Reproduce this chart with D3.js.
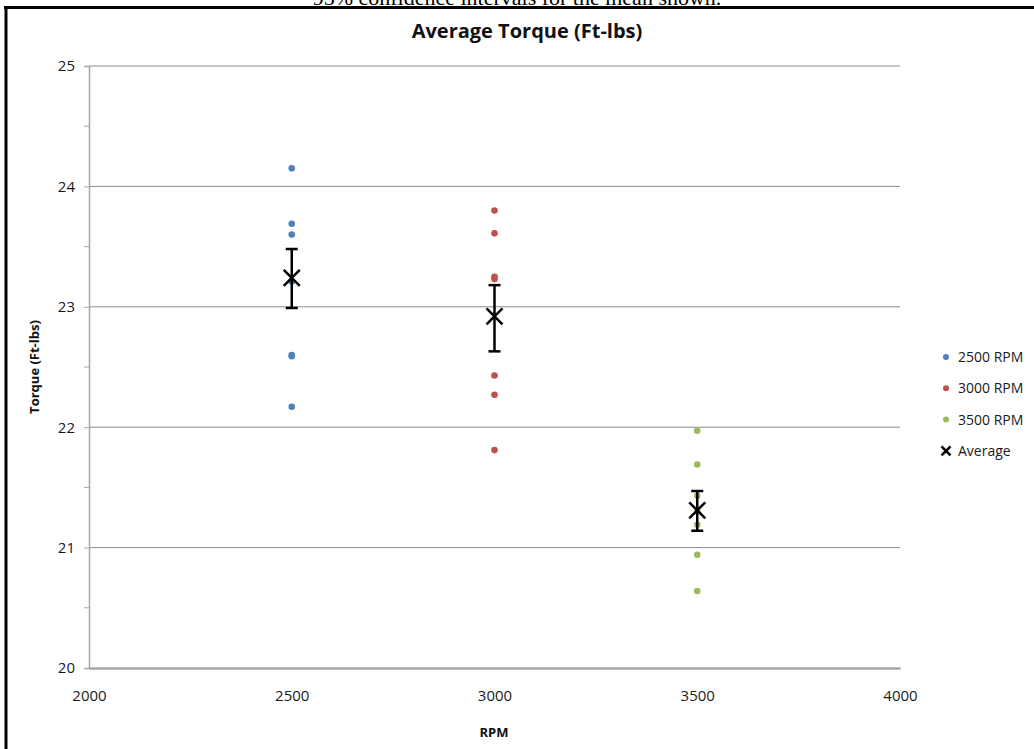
<!DOCTYPE html>
<html>
<head>
<meta charset="utf-8">
<script src="https://cdn.jsdelivr.net/npm/d3@7"></script>
<style>
  body { margin: 0; background: #fff; }
  svg { display: block; }
</style>
</head>
<body>
<svg id="chart" width="1034" height="749"></svg>
<script>
// series values
var rpm2500 = [24.15, 23.69, 23.60, 23.21, 22.60, 22.59, 22.17];
var rpm3000 = [23.80, 23.61, 23.25, 23.23, 22.43, 22.27, 21.81];
var rpm3500 = [21.97, 21.69, 21.43, 21.30, 21.19, 20.94, 20.64];

// averages with 95% confidence interval bounds
var avgRpm = [2500, 3000, 3500];
var avgValue = [23.24, 22.92, 21.31];
var avgLow = [22.99, 22.63, 21.14];
var avgHigh = [23.48, 23.18, 21.47];

var xTicks = [2000, 2500, 3000, 3500, 4000];
var yTicks = [20, 21, 22, 23, 24, 25];
var yMinor = [20.5, 21.5, 22.5, 23.5, 24.5];

var seriesNames = ["2500 RPM", "3000 RPM", "3500 RPM"];
var seriesColors = ["#4f81bd", "#c0504d", "#9bbb59"];

var font = "'Open Sans', sans-serif";
var svg = d3.select("#chart");

// frame of the pasted picture
svg.append("line").attr("x1", 4).attr("x2", 1034).attr("y1", 7.5).attr("y2", 7.5)
   .attr("stroke", "#000").attr("stroke-width", 3);
svg.append("line").attr("x1", 6).attr("x2", 6).attr("y1", 6).attr("y2", 749)
   .attr("stroke", "#000").attr("stroke-width", 3);

// caption, clipped at the top as in the original
svg.append("text")
   .attr("x", 517).attr("y", 5)
   .attr("text-anchor", "middle")
   .style("font-family", "'Liberation Serif', 'Times New Roman', serif")
   .style("font-size", "22px")
   .text("95% confidence intervals for the mean shown.");

// scales
var x = d3.scaleLinear().domain([2000, 4000]).range([89, 900]);
var y = d3.scaleLinear().domain([20, 25]).range([668, 66]);

// gridlines
svg.append("g").selectAll("line")
   .data(yTicks.slice(1))
   .enter().append("line")
   .attr("x1", x(2000)).attr("x2", x(4000))
   .attr("y1", d => y(d)).attr("y2", d => y(d))
   .attr("stroke", "#8c8c8c").attr("stroke-width", 1);

// y axis
var yAxis = d3.axisLeft(y).tickValues(yTicks).tickFormat(d3.format("d"))
              .tickSize(5).tickPadding(9);
var gy = svg.append("g")
   .attr("transform", "translate(" + x(2000) + ",0)")
   .call(yAxis);
gy.select(".domain").attr("stroke", "#a6a6a6").attr("stroke-width", 1.5);
gy.selectAll(".tick line").attr("stroke", "#a6a6a6");
gy.selectAll(".tick text")
  .style("font-family", font).style("font-size", "15px").attr("fill", "#1a1a1a");

gy.selectAll(".minor")
  .data(yMinor)
  .enter().append("line")
  .attr("class", "minor")
  .attr("x1", -5).attr("x2", 0)
  .attr("y1", d => y(d)).attr("y2", d => y(d))
  .attr("stroke", "#a6a6a6");

// x axis
var xAxis = d3.axisBottom(x).tickValues(xTicks).tickFormat(d3.format("d"))
              .tickSize(0).tickPadding(22);
var gx = svg.append("g")
   .attr("transform", "translate(0," + y(20) + ")")
   .call(xAxis);
gx.select(".domain").attr("stroke", "#a6a6a6").attr("stroke-width", 2.5);
gx.selectAll(".tick text")
  .style("font-family", font).style("font-size", "15px").attr("fill", "#1a1a1a");

// scatter points
var series = [rpm2500, rpm3000, rpm3500];
series.forEach(function(values, i) {
    svg.append("g").selectAll("circle")
       .data(values)
       .enter().append("circle")
       .attr("cx", x(avgRpm[i]))
       .attr("cy", d => y(d))
       .attr("r", 3.3)
       .attr("fill", seriesColors[i]);
});

// error bars
var bars = svg.append("g").attr("stroke", "#000").attr("stroke-width", 2.5);
avgRpm.forEach(function(r, i) {
    bars.append("line")
        .attr("x1", x(r)).attr("x2", x(r))
        .attr("y1", y(avgLow[i])).attr("y2", y(avgHigh[i]));
    [avgLow[i], avgHigh[i]].forEach(function(v) {
        bars.append("line")
            .attr("x1", x(r) - 6).attr("x2", x(r) + 6)
            .attr("y1", y(v)).attr("y2", y(v));
    });
});

// average markers
function cross(g, cx, cy, s, w) {
    g.append("path")
     .attr("d", "M" + (cx - s) + "," + (cy - s) + "L" + (cx + s) + "," + (cy + s) +
                "M" + (cx - s) + "," + (cy + s) + "L" + (cx + s) + "," + (cy - s))
     .attr("stroke", "#000").attr("stroke-width", w).attr("fill", "none");
}
var marks = svg.append("g");
avgRpm.forEach(function(r, i) {
    cross(marks, x(r), y(avgValue[i]), 8, 2.5);
});

// title
svg.append("text")
   .attr("x", 527).attr("y", 38)
   .attr("text-anchor", "middle")
   .style("font-family", font).style("font-size", "20px").style("font-weight", "bold")
   .attr("fill", "#111")
   .text("Average Torque (Ft-lbs)");

// axis titles
svg.append("text")
   .attr("transform", "translate(39,367) rotate(-90)")
   .attr("text-anchor", "middle")
   .style("font-family", font).style("font-size", "13px").style("font-weight", "bold")
   .attr("fill", "#111")
   .text("Torque (Ft-lbs)");

svg.append("text")
   .attr("x", 494).attr("y", 737)
   .attr("text-anchor", "middle")
   .style("font-family", font).style("font-size", "13px").style("font-weight", "bold")
   .attr("fill", "#111")
   .text("RPM");

// legend
var legend = svg.append("g").attr("transform", "translate(946,357)");
seriesNames.forEach(function(name, i) {
    legend.append("circle")
          .attr("cx", 0).attr("cy", i * 31.3)
          .attr("r", 3).attr("fill", seriesColors[i]);
    legend.append("text")
          .attr("x", 12).attr("y", i * 31.3 + 5)
          .style("font-family", font).style("font-size", "14px")
          .attr("fill", "#1a1a1a")
          .text(name);
});
cross(legend, 0, 3 * 31.3, 4.5, 2.5);
legend.append("text")
      .attr("x", 12).attr("y", 3 * 31.3 + 5)
      .style("font-family", font).style("font-size", "14px")
      .attr("fill", "#1a1a1a")
      .text("Average");
</script>
</body>
</html>
